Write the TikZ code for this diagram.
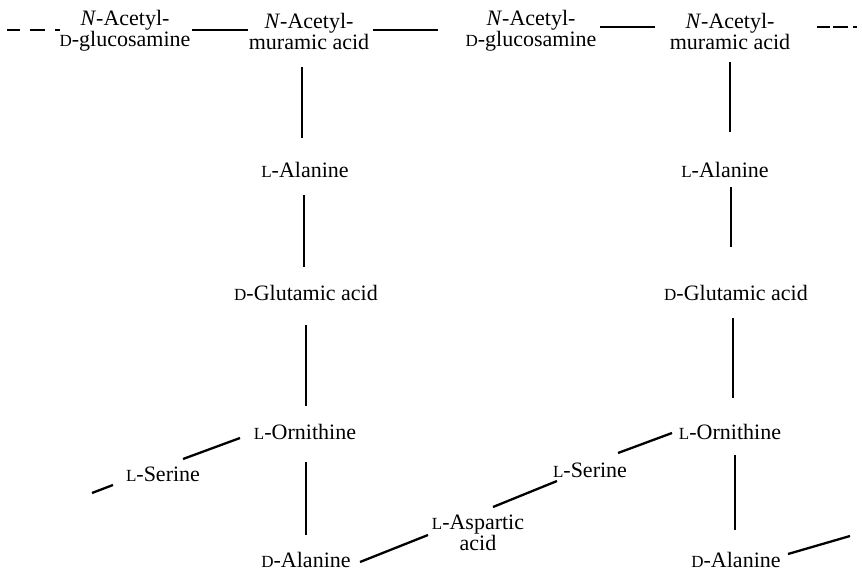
\documentclass[tikz,border=0pt]{standalone}
\usepackage{fontspec}
\setmainfont{Liberation Serif}
\usetikzlibrary{calc}
% small-capital configuration letters for L- and D- amino acids
\newcommand{\Lconf}{{\fontsize{17}{17}\selectfont L}}
\newcommand{\Dconf}{{\fontsize{17}{17}\selectfont D}}
\tikzset{
  residue/.style={inner sep=0pt, align=center, font=\fontsize{22}{21}\selectfont},
  bond/.style={line width=2.3pt},
}
\begin{document}
\begin{tikzpicture}[x=1pt, y=-1pt]
  \fill[white] (0,0) rectangle (862,572);
  \useasboundingbox (0,0) rectangle (862,572);

  % glycan backbone
  \node[residue] (nag1) at (125,31) {\textit{N}-Acetyl-\\\Dconf-glucosamine};
  \node[residue] (nam1) at (309,31) {\textit{N}-Acetyl-\\muramic acid};
  \node[residue] (nag2) at (531,31) {\textit{N}-Acetyl-\\\Dconf-glucosamine};
  \node[residue] (nam2) at (730,31) {\textit{N}-Acetyl-\\muramic acid};

  % left peptide stem
  \node[residue] (ala1)  at (305,170) {\Lconf-Alanine};
  \node[residue] (glu1)  at (306,293) {\Dconf-Glutamic acid};
  \node[residue] (orn1)  at (305,432) {\Lconf-Ornithine};
  \node[residue] (ser1)  at (163,474) {\Lconf-Serine};
  \node[residue] (dala1) at (306,560) {\Dconf-Alanine};

  % interpeptide bridge
  \node[residue] (asp) at (478,533) {\Lconf-Aspartic\\acid};

  % right peptide stem
  \node[residue] (ala2)  at (725,170) {\Lconf-Alanine};
  \node[residue] (glu2)  at (736,293) {\Dconf-Glutamic acid};
  \node[residue] (orn2)  at (730,432) {\Lconf-Ornithine};
  \node[residue] (ser2)  at (590,470) {\Lconf-Serine};
  \node[residue] (dala2) at (736,560) {\Dconf-Alanine};

  % free chain ends
  \coordinate (chainL) at (7,30);
  \coordinate (chainR) at (857,27);
  \coordinate (serEnd) at (92,493);
  \coordinate (alaEnd) at (850,536);

  % glycan bonds
  \draw[bond, dash pattern=on 13pt off 10pt on 15pt off 10pt on 5pt] (chainL) -- ($(nag1)+(-65,-1)$);
  \draw[bond] ($(nag1)+(67,-1)$) -- ($(nam1)+(-61,-1)$);
  \draw[bond] ($(nam1)+(64,-1)$) -- ($(nag2)+(-93,-1)$);
  \draw[bond] ($(nag2)+(69,-4)$) -- ($(nam2)+(-75,-4)$);
  \draw[bond, dash pattern=on 13pt off 3pt on 15pt off 5pt on 4pt] ($(nam2)+(87,-4)$) -- (chainR);

  % left stem bonds
  \draw[bond] ($(nam1)+(-7,36)$) -- ($(ala1)+(-3,-32)$);
  \draw[bond] ($(ala1)+(-1,25)$) -- ($(glu1)+(-2,-26)$);
  \draw[bond] ($(glu1)+(0,32)$) -- ($(orn1)+(1,-26)$);
  \draw[bond] ($(orn1)+(1,30)$) -- ($(dala1)+(0,-25)$);
  \draw[bond] ($(orn1)+(-65,6)$) -- ($(ser1)+(20,-15)$);
  \draw[bond] ($(ser1)+(-50,11)$) -- (serEnd);

  % bridge bonds
  \draw[bond] ($(dala1)+(54,2)$) -- ($(asp)+(-50,2)$);
  \draw[bond] ($(asp)+(15,-26)$) -- ($(ser2)+(-33,11)$);
  \draw[bond] ($(ser2)+(28,-17)$) -- ($(orn2)+(-58,1)$);

  % right stem bonds
  \draw[bond] ($(nam2)+(0,31)$) -- ($(ala2)+(5,-38)$);
  \draw[bond] ($(ala2)+(6,17)$) -- ($(glu2)+(-5,-46)$);
  \draw[bond] ($(glu2)+(-3,25)$) -- ($(orn2)+(3,-34)$);
  \draw[bond] ($(orn2)+(5,23)$) -- ($(dala2)+(-1,-30)$);
  \draw[bond] ($(dala2)+(52,-6)$) -- (alaEnd);
\end{tikzpicture}
\end{document}
